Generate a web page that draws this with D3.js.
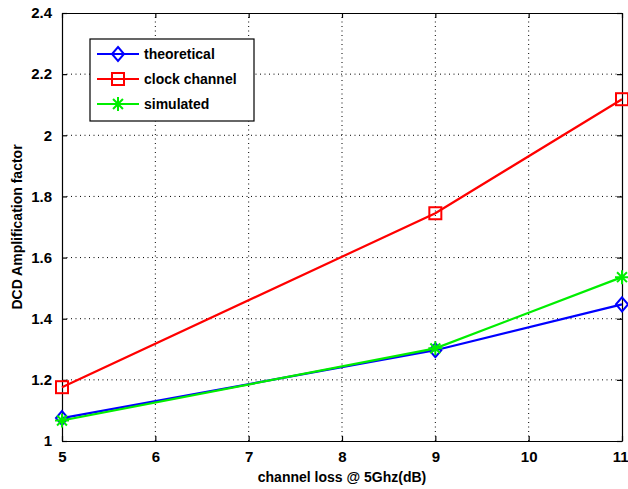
<!DOCTYPE html>
<html>
<head>
<meta charset="utf-8">
<script src="https://cdn.jsdelivr.net/npm/d3@7"></script>
<style>
  html, body { margin: 0; padding: 0; background: #fff; }
  svg { display: block; }
  text { font-family: "Liberation Sans", Arial, sans-serif; font-weight: bold; fill: #000; }
</style>
</head>
<body>
<svg id="chart" width="628" height="489"></svg>
<script>
// Channel loss at 5 GHz (dB)
const channelLoss = [5, 9, 11];
// DCD amplification factor for each series
const theoretical = [1.075, 1.297, 1.447];
const clockChannel = [1.176, 1.745, 2.118];
const simulated = [1.067, 1.303, 1.536];

const seriesNames = ["theoretical", "clock channel", "simulated"];
const seriesColors = ["#0000ff", "#ff0000", "#00ee00"];
const seriesMarkers = ["diamond", "square", "star"];

const xTicks = [5, 6, 7, 8, 9, 10, 11];
const yTicks = [1, 1.2, 1.4, 1.6, 1.8, 2, 2.2, 2.4];

const margin = { left: 62, right: 6, top: 13, bottom: 48 };
const W = 628, H = 489;
const svg = d3.select("#chart");

const x = d3.scaleLinear().domain([5, 11]).range([margin.left, W - margin.right]);
const y = d3.scaleLinear().domain([1, 2.4]).range([H - margin.bottom, margin.top]);

const x0 = x.range()[0], x1 = x.range()[1];
const y0 = y.range()[0], y1 = y.range()[1];

// Dotted grid
const grid = svg.append("g").attr("stroke", "#000").attr("stroke-width", 1)
  .attr("stroke-dasharray", "1,3.5");
grid.selectAll(".gx").data(xTicks.slice(1, -1)).join("line")
  .attr("x1", d => x(d)).attr("x2", d => x(d)).attr("y1", y0).attr("y2", y1);
grid.selectAll(".gy").data(yTicks.slice(1, -1)).join("line")
  .attr("y1", d => y(d)).attr("y2", d => y(d)).attr("x1", x0).attr("x2", x1);

// Axes with inward ticks on all four sides
const tickLen = 5;
const axB = svg.append("g").attr("transform", `translate(0,${y0})`)
  .call(d3.axisBottom(x).tickValues(xTicks).tickFormat(d3.format("d")).tickSizeInner(-tickLen).tickSizeOuter(0).tickPadding(10));
const axT = svg.append("g").attr("transform", `translate(0,${y1})`)
  .call(d3.axisTop(x).tickValues(xTicks).tickFormat("").tickSizeInner(-tickLen).tickSizeOuter(0));
const axL = svg.append("g").attr("transform", `translate(${x0},0)`)
  .call(d3.axisLeft(y).tickValues(yTicks).tickFormat(d3.format("~g")).tickSizeInner(-tickLen).tickSizeOuter(0).tickPadding(10));
const axR = svg.append("g").attr("transform", `translate(${x1},0)`)
  .call(d3.axisRight(y).tickValues(yTicks).tickFormat("").tickSizeInner(-tickLen).tickSizeOuter(0));
[axB, axT, axL, axR].forEach(a => {
  a.select(".domain").attr("stroke", "#000").attr("stroke-width", 1.2);
  a.selectAll(".tick line").attr("stroke", "#000").attr("stroke-width", 1.2);
  a.selectAll("text").attr("font-size", 15).attr("font-family", "Liberation Sans, Arial, sans-serif").attr("font-weight", "bold").attr("fill", "#000");
});
axB.selectAll("text").attr("dy", "0.75em");
// keep the last x label inside the canvas
axB.selectAll(".tick text").filter(d => d === 11).attr("text-anchor", "end").attr("dx", 6);

// Marker drawing
function drawMarker(g, type, color, cx, cy) {
  if (type === "diamond") {
    g.append("path").attr("d", `M${cx},${cy - 7}L${cx + 6},${cy}L${cx},${cy + 7}L${cx - 6},${cy}Z`)
      .attr("fill", "none").attr("stroke", color).attr("stroke-width", 2);
  } else if (type === "square") {
    g.append("rect").attr("x", cx - 6).attr("y", cy - 6).attr("width", 12).attr("height", 12)
      .attr("fill", "none").attr("stroke", color).attr("stroke-width", 2);
  } else {
    const r = 7;
    const p = [];
    for (let k = 0; k < 4; k++) {
      const a = k * Math.PI / 4;
      p.push(`M${cx - r * Math.cos(a)},${cy - r * Math.sin(a)}L${cx + r * Math.cos(a)},${cy + r * Math.sin(a)}`);
    }
    g.append("path").attr("d", p.join("")).attr("stroke", color).attr("stroke-width", 2).attr("fill", "none");
  }
}

// Series lines and markers
const allSeries = [theoretical, clockChannel, simulated];
const line = d3.line().x((d, i) => x(channelLoss[i])).y(d => y(d));
allSeries.forEach((vals, s) => {
  const g = svg.append("g");
  g.append("path").datum(vals).attr("d", line).attr("fill", "none")
    .attr("stroke", seriesColors[s]).attr("stroke-width", 2.2);
  vals.forEach((v, i) => drawMarker(g, seriesMarkers[s], seriesColors[s], x(channelLoss[i]), y(v)));
});

// Legend
const leg = svg.append("g");
leg.append("rect").attr("x", 90).attr("y", 39).attr("width", 164).attr("height", 82)
  .attr("fill", "#fff").attr("stroke", "#000").attr("stroke-width", 1.2);
seriesNames.forEach((name, s) => {
  const ly = 54 + s * 25;
  leg.append("line").attr("x1", 97).attr("x2", 139).attr("y1", ly).attr("y2", ly)
    .attr("stroke", seriesColors[s]).attr("stroke-width", 2.2);
  drawMarker(leg, seriesMarkers[s], seriesColors[s], 118, ly);
  leg.append("text").attr("x", 144).attr("y", ly).attr("dy", "0.35em")
    .attr("font-size", 14).text(name);
});

// Axis titles
svg.append("text").attr("x", (x0 + x1) / 2).attr("y", 482).attr("text-anchor", "middle")
  .attr("font-size", 14).text("channel loss @ 5Ghz(dB)");
svg.append("text").attr("transform", `translate(22,${(y0 + y1) / 2}) rotate(-90)`)
  .attr("text-anchor", "middle").attr("font-size", 14).text("DCD Amplification factor");
</script>
</body>
</html>
